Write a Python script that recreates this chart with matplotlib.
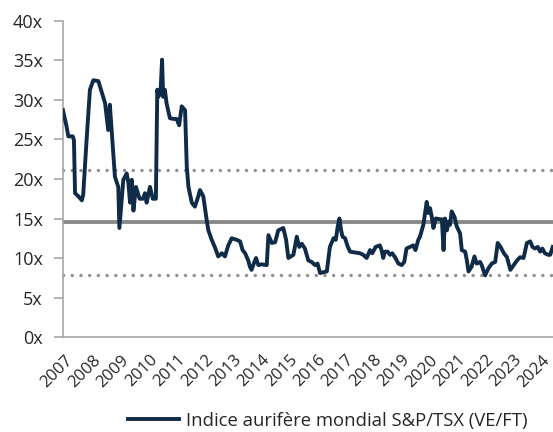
import matplotlib
matplotlib.use('Agg')
import matplotlib.pyplot as plt
import matplotlib.transforms as mtransforms

# ratio VE/FT de l'indice aurifère (lecture du graphique, années décimales)
annees = [
    2007.00, 2007.13, 2007.19, 2007.35, 2007.39, 2007.43, 2007.55, 2007.67, 2007.72, 2007.84,
    2007.96, 2008.08, 2008.26, 2008.38, 2008.50, 2008.61, 2008.67, 2008.74, 2008.85, 2008.97,
    2009.01, 2009.15, 2009.27, 2009.33, 2009.39, 2009.45, 2009.51, 2009.60, 2009.73, 2009.85,
    2009.92, 2009.98, 2010.10, 2010.20, 2010.31, 2010.36, 2010.40, 2010.48, 2010.53, 2010.57,
    2010.63, 2010.69, 2010.81, 2010.93, 2011.05, 2011.14, 2011.23, 2011.35, 2011.41, 2011.47,
    2011.59, 2011.70, 2011.82, 2011.88, 2012.00, 2012.12, 2012.18, 2012.30, 2012.42, 2012.53,
    2012.66, 2012.77, 2012.89, 2013.01, 2013.19, 2013.31, 2013.40, 2013.49, 2013.60, 2013.66,
    2013.72, 2013.81, 2013.88, 2013.96, 2014.08, 2014.26, 2014.32, 2014.44, 2014.56, 2014.67,
    2014.85, 2014.95, 2015.03, 2015.21, 2015.33, 2015.42, 2015.51, 2015.62, 2015.74, 2015.86,
    2015.98, 2016.07, 2016.16, 2016.28, 2016.40, 2016.51, 2016.64, 2016.72, 2016.79, 2016.85,
    2016.91, 2016.96, 2017.05, 2017.15, 2017.23, 2017.41, 2017.58, 2017.70, 2017.82, 2017.94,
    2018.02, 2018.14, 2018.29, 2018.35, 2018.41, 2018.47, 2018.57, 2018.65, 2018.73, 2018.83,
    2018.95, 2019.07, 2019.16, 2019.24, 2019.36, 2019.48, 2019.56, 2019.66, 2019.72, 2019.84,
    2019.96, 2020.02, 2020.08, 2020.14, 2020.20, 2020.28, 2020.44, 2020.50, 2020.56, 2020.61,
    2020.68, 2020.74, 2020.79, 2020.85, 2020.95, 2021.03, 2021.15, 2021.21, 2021.33, 2021.39,
    2021.45, 2021.56, 2021.66, 2021.74, 2021.86, 2021.92, 2022.04, 2022.16, 2022.28, 2022.40,
    2022.49, 2022.59, 2022.71, 2022.82, 2022.94, 2023.06, 2023.18, 2023.29, 2023.41, 2023.53,
    2023.65, 2023.73, 2023.82, 2023.92, 2024.00, 2024.08, 2024.17, 2024.29, 2024.36, 2024.45,
]
ve_ft = [
    28.7, 26.6, 25.4, 25.4, 24.9, 18.2, 17.8, 17.3, 18.0, 24.9,
    31.3, 32.5, 32.4, 31.0, 29.6, 26.2, 29.4, 25.8, 20.3, 19.0,
    13.8, 19.9, 20.7, 19.5, 17.0, 19.9, 16.0, 19.0, 17.5, 17.5,
    18.2, 17.0, 19.0, 17.5, 17.5, 31.3, 30.4, 31.3, 35.1, 30.4,
    31.3, 29.6, 27.7, 27.6, 27.6, 26.8, 29.2, 28.7, 21.6, 19.0,
    17.0, 16.5, 17.8, 18.6, 17.8, 14.8, 13.5, 12.3, 11.3, 10.2,
    10.6, 10.2, 11.6, 12.5, 12.3, 12.1, 11.0, 10.6, 9.7, 8.9,
    8.5, 9.4, 10.0, 9.1, 9.2, 9.1, 12.9, 11.9, 12.0, 13.5,
    13.8, 12.3, 10.0, 10.4, 12.7, 11.4, 11.8, 11.2, 9.7, 9.5,
    9.1, 9.3, 8.1, 8.2, 8.3, 11.4, 12.5, 12.3, 14.0, 15.0,
    13.5, 12.7, 12.5, 11.4, 10.8, 10.7, 10.6, 10.4, 10.0, 11.0,
    10.6, 11.4, 11.6, 11.0, 10.0, 10.8, 10.8, 10.4, 10.6, 10.1,
    9.3, 9.1, 9.5, 11.2, 11.4, 11.6, 11.0, 12.3, 12.7, 14.2,
    17.1, 15.7, 16.3, 15.2, 13.8, 15.0, 14.9, 14.9, 11.0, 15.0,
    13.5, 14.6, 14.2, 15.9, 15.2, 14.0, 13.1, 11.0, 10.8, 9.7,
    8.3, 8.9, 10.2, 9.3, 9.5, 9.1, 7.8, 8.7, 9.3, 9.5,
    11.9, 11.4, 10.6, 10.1, 8.5, 9.1, 9.7, 10.1, 10.0, 11.9,
    12.1, 11.4, 11.2, 11.4, 10.8, 11.2, 10.6, 10.4, 10.4, 11.4,
]
moyenne = 14.5
ecart_type = 6.6

annees_ticks = list(range(2007, 2025))
y_ticks = [0, 5, 10, 15, 20, 25, 30, 35, 40]

plt.rcParams['font.family'] = ['Open Sans', 'DejaVu Sans']

fig = plt.figure(figsize=(5.53, 4.32), dpi=100)
ax = fig.add_axes([0.1139, 0.2199, 0.8861, 0.7315])

ax.axhline(moyenne + ecart_type, color='#929292', lw=2.5, linestyle=(0, (0.01, 2.5)),
           dash_capstyle='round', zorder=1)
ax.axhline(moyenne - ecart_type, color='#929292', lw=2.5, linestyle=(0, (0.01, 2.5)),
           dash_capstyle='round', zorder=1)
ax.axhline(moyenne, color='#8a8a8a', lw=2.8, zorder=1)

ligne, = ax.plot(annees, ve_ft, color='#0f2b48', lw=2.8, solid_joinstyle='round',
                 label='Indice aurifère mondial S&P/TSX (VE/FT)', zorder=3)

ax.set_xlim(2007, 2024.46)
ax.set_ylim(0, 40)
ax.set_yticks(y_ticks)
ax.set_yticklabels([f'{v}x' for v in y_ticks])
ax.set_xticks(annees_ticks)
ax.set_xticklabels([str(a) for a in annees_ticks], rotation=45, ha='right', va='top',
                   rotation_mode='anchor')

for s in ['top', 'right']:
    ax.spines[s].set_visible(False)
for s in ['left', 'bottom']:
    ax.spines[s].set_color('#a6a6a6')
    ax.spines[s].set_linewidth(1.2)

ax.tick_params(axis='y', length=6.5, width=1.2, color='#a6a6a6', labelsize=13,
               labelcolor='#262626', pad=8)
ax.tick_params(axis='x', length=0, labelsize=12, labelcolor='#262626', pad=0)

fig.legend(handles=[ligne], loc='center', bbox_to_anchor=(0.592, 0.026), frameon=False,
           fontsize=13.3, handlelength=2.76, handletextpad=0.38, labelcolor='#262626')

# décaler les étiquettes d'années comme dans Excel
fig.canvas.draw()
decalage = mtransforms.ScaledTranslation(0.02, -0.15, fig.dpi_scale_trans)
for lab in ax.xaxis.get_majorticklabels():
    lab.set_transform(lab.get_transform() + decalage)

fig.savefig('out.png', dpi=100)
